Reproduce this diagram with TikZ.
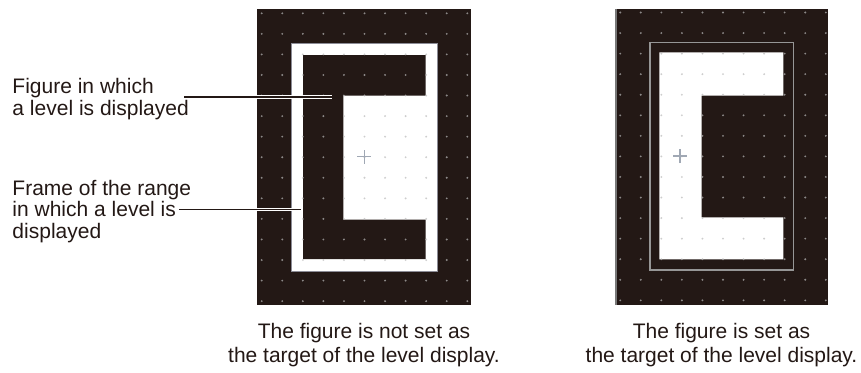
\documentclass[tikz,border=0pt]{standalone}
\usepackage{fontspec}
\setmainfont{Liberation Sans}
\definecolor{ink}{HTML}{231815}
\definecolor{framegray}{HTML}{8C8C96}
\definecolor{crossgray}{HTML}{A0A8B4}
\begin{document}
\begin{tikzpicture}[x=1pt,y=-1pt,
  txt/.style={inner sep=0pt,text=ink,font=\fontsize{21}{24}\selectfont},
  panel/.style={fill=ink,draw=none},
  dot/.style={fill={rgb,255:red,185;green,185;blue,185},fill opacity=0.7},
  leader/.style={draw=ink,line width=1.6pt},
  halo/.style={draw=white,line width=3.6pt},
  cross/.style={draw=crossgray,line width=1.1pt}]
\useasboundingbox (0,0) rectangle (861,372);

% ---------- left panel ----------
\fill[panel] (257,9) rectangle (471,305);
\filldraw[fill=white,draw=framegray,line width=1pt] (291.7,43) rectangle (437,271);
\fill[ink] (303,55) -- (425.7,55) -- (425.7,95.7) -- (343.3,95.7) -- (343.3,219.7)
  -- (425.7,219.7) -- (425.7,259) -- (303,259) -- cycle;
\foreach \i in {0,...,10}{
  \foreach \j in {0,...,14}{
    \fill[dot] ({261.7+20.56*\i},{13.3+20.56*\j}) circle (1.05);
  }
}
\coordinate (c1) at (364.3,156.7);
\draw[cross] ([xshift=-7pt]c1) -- ([xshift=7pt]c1);
\draw[cross] ([yshift=-7pt]c1) -- ([yshift=7pt]c1);

% ---------- right panel ----------
\fill[panel] (615,9) rectangle (828,305);
\draw[draw={rgb,255:red,120;green,120;blue,120},line width=2.6pt] (615.8,9) -- (615.8,305);
\draw[draw={rgb,255:red,150;green,150;blue,150},line width=1.5pt] (650,42.7) rectangle (793.3,270);
\fill[white] (659.3,52.3) -- (783.3,52.3) -- (783.3,95.7) -- (701.7,95.7) -- (701.7,217.3)
  -- (783.3,217.3) -- (783.3,259.3) -- (659.3,259.3) -- cycle;
\foreach \i in {0,...,10}{
  \foreach \j in {0,...,14}{
    \fill[dot] ({620.2+20.56*\i},{12.5+20.56*\j}) circle (1.05);
  }
}
\coordinate (c2) at (680,156);
\draw[cross] ([xshift=-7pt]c2) -- ([xshift=7pt]c2);
\draw[cross] ([yshift=-7pt]c2) -- ([yshift=7pt]c2);

% ---------- labels ----------
\node[txt,anchor=base west] (l1a) at (12.3,93.3) {Figure in which};
\node[txt,anchor=base west] (l1b) at (12.3,115.5) {a level is displayed};
\node[txt,anchor=base west] (l2a) at (12.3,195) {Frame of the range};
\node[txt,anchor=base west] (l2b) at (12.3,216.7) {in which a level is};
\node[txt,anchor=base west] (l2c) at (12.3,238.4) {displayed};

\coordinate (s1) at (184,96.7);
\coordinate (e1) at (331.7,96.7);
\coordinate (s2) at (179,209.3);
\coordinate (e2) at (301,209.3);
\draw[halo] (s1) -- (e1);
\draw[leader] (s1) -- (e1);
\draw[halo] (s2) -- (e2);
\draw[leader] (s2) -- (e2);

% ---------- captions ----------
\node[txt,anchor=base] (cap1a) at (364,338.3) {The figure is not set as};
\node[txt,anchor=base] (cap1b) at (364,362.3) {the target of the level display.};
\node[txt,anchor=base] (cap2a) at (721.5,338.3) {The figure is set as};
\node[txt,anchor=base] (cap2b) at (721.5,362.3) {the target of the level display.};
\end{tikzpicture}
\end{document}
